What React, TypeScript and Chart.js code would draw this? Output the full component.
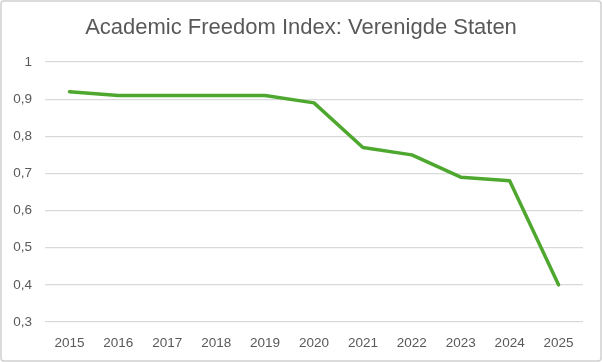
import React, { useEffect, useRef } from "react";
import { Chart, registerables } from "chart.js";

Chart.register(...registerables);

const years: string[] = ["2015", "2016", "2017", "2018", "2019", "2020", "2021", "2022", "2023", "2024", "2025"];
const afiValues: number[] = [0.92, 0.91, 0.91, 0.91, 0.91, 0.89, 0.77, 0.75, 0.69, 0.68, 0.4];
const titleText = "Academic Freedom Index: Verenigde Staten";
const yMin = 0.3;
const yMax = 1;
const yStep = 0.1;

const FONT = "'Liberation Sans', Arial, sans-serif";
const TEXT = "#595959";
const GRID = "#d9d9d9";

const frameAndTitlePlugin = {
  id: "frameAndTitle",
  afterDraw(chart: any) {
    const ctx = chart.ctx;
    ctx.save();
    ctx.fillStyle = TEXT;
    ctx.font = `22px ${FONT}`;
    ctx.textAlign = "center";
    ctx.textBaseline = "middle";
    ctx.fillText(titleText, chart.width / 2, 28);
    ctx.strokeStyle = "#d0d0d0";
    ctx.lineWidth = 1.5;
    ctx.beginPath();
    (ctx as any).roundRect
      ? (ctx as any).roundRect(1, 1, chart.width - 2, chart.height - 2, 3)
      : ctx.rect(1, 1, chart.width - 2, chart.height - 2);
    ctx.stroke();
    ctx.restore();
  },
};

export default function App() {
  const ref = useRef<HTMLCanvasElement | null>(null);
  useEffect(() => {
    document.body.style.margin = "0";
    const c = new Chart(ref.current!, {
      type: "line",
      data: {
        labels: years,
        datasets: [
          {
            data: afiValues,
            borderColor: "#4ea72e",
            borderWidth: 3.5,
            pointRadius: 0,
            tension: 0,
            fill: false,
            borderCapStyle: "round",
            borderJoinStyle: "round",
          },
        ],
      },
      options: {
        responsive: false,
        animation: false,
        layout: { padding: { left: 0, right: 19, top: 62, bottom: 0 } },
        plugins: {
          legend: { display: false },
          tooltip: { enabled: false },
          title: { display: false },
        },
        scales: {
          x: {
            offset: true,
            grid: { display: false, drawTicks: false },
            border: { display: false },
            afterFit(scale: any) {
              scale.height = 40;
            },
            ticks: {
              color: TEXT,
              font: { family: FONT, size: 13.5 },
              padding: 13,
              maxRotation: 0,
            },
          },
          y: {
            min: yMin,
            max: yMax,
            grid: { color: GRID, lineWidth: 1.2, drawTicks: false },
            border: { display: false },
            afterFit(scale: any) {
              scale.width = 45;
            },
            ticks: {
              stepSize: yStep,
              color: TEXT,
              font: { family: FONT, size: 13.5 },
              padding: 13,
              callback: (v: any) => {
                const r = Math.round(Number(v) * 10) / 10;
                return String(r).replace(".", ",");
              },
            },
          },
        },
      },
      plugins: [frameAndTitlePlugin],
    });
    return () => c.destroy();
  }, []);
  return (
    <div style={{ position: "absolute", left: 0, top: 0, width: 602, height: 362, background: "#fff" }}>
      <canvas ref={ref} width={602} height={362} />
    </div>
  );
}
